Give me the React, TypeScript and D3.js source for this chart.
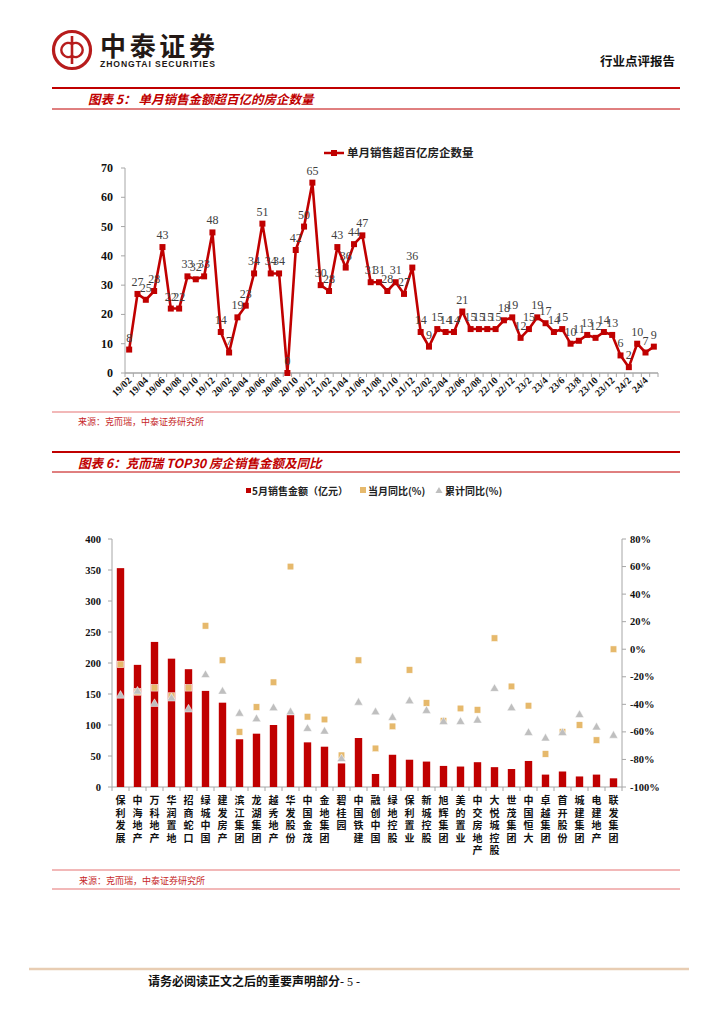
import React from "react";
import * as d3 from "d3";

const months = [
  "19/02","19/03","19/04","19/05","19/06","19/07","19/08","19/09","19/10","19/11","19/12",
  "20/01","20/02","20/03","20/04","20/05","20/06","20/07","20/08","20/09","20/10","20/11","20/12",
  "21/01","21/02","21/03","21/04","21/05","21/06","21/07","21/08","21/09","21/10","21/11","21/12",
  "22/01","22/02","22/03","22/04","22/05","22/06","22/07","22/08","22/09","22/10","22/11","22/12",
  "23/1","23/2","23/3","23/4","23/5","23/6","23/7","23/8","23/9","23/10","23/11","23/12",
  "24/1","24/2","24/3","24/4","24/5",
];
const monthlyCount = [
  8,27,25,28,43,22,22,33,32,33,48,
  14,7,19,23,34,51,34,34,0,42,50,65,
  30,28,43,36,44,47,31,31,28,31,27,36,
  14,9,15,14,14,21,15,15,15,15,18,19,
  12,15,19,17,14,15,10,11,13,12,14,13,
  6,2,10,7,9,
];
const monthTickLabels = [
  "19/02","19/04","19/06","19/08","19/10","19/12","20/02","20/04","20/06","20/08","20/10","20/12",
  "21/02","21/04","21/06","21/08","21/10","21/12","22/02","22/04","22/06","22/08","22/10","22/12",
  "23/2","23/4","23/6","23/8","23/10","23/12","24/2","24/4",
];
const countTicks = [0,10,20,30,40,50,60,70];

const companies = [
  "保利发展","中海地产","万科地产","华润置地","招商蛇口","绿城中国","建发房产","滨江集团","龙湖集团","越秀地产",
  "华发股份","中国金茂","金地集团","碧桂园","中国铁建","融创中国","绿地控股","保利置业","新城控股","旭辉集团",
  "美的置业","中交房地产","大悦城控股","世茂集团","中国恒大","卓越集团","首开股份","城建集团","电建地产","联发集团",
];
const maySales = [353,197,234,207,190,155,136,77,86,100,116,72,65,38,79,21,52,44,41,34,33,40,32,29,42,20,25,17,20,14];
const monthYoY = [-11,-31,-28,-34,-28,17,-8,-60,-42,-24,60,-49,-51,-77,-8,-72,-56,-15,-39,-52,-43,-44,8,-27,-41,-76,-60,-55,-66,0];
const cumYoY = [-33,-30,-39,-35,-43,-18,-30,-46,-50,-42,-45,-57,-59,-79,-38,-45,-49,-37,-44,-52,-52,-51,-28,-42,-60,-64,-60,-47,-56,-62];
const salesTicks = [0,50,100,150,200,250,300,350,400];
const pctTicks = [-100,-80,-60,-40,-20,0,20,40,60,80];

const SERIF = "'Liberation Serif','Times New Roman',serif";
const CJK = "'Noto Sans CJK SC','Noto Sans',sans-serif";
const RED = "#C00000";
const TAN = "#E6B96C";
const GRAY = "#BFBFBF";
const AXIS = "#A6A6A6";

function Chart1() {
  const x = d3.scaleBand<string>().domain(months).range([125, 658]);
  const y = d3.scaleLinear().domain([0, 70]).range([373, 168]);
  const bw = x.bandwidth();
  const cx = (m: string) => (x(m) as number) + bw / 2;
  const line = d3
    .line<number>()
    .x((_, i) => cx(months[i]))
    .y((d) => y(d));
  return (
    <g>
      <line x1={324} x2={344} y1={153} y2={153} stroke={RED} strokeWidth={2.5} />
      <rect x={331} y={150} width={6} height={6} fill={RED} />
      <text x={347} y={157} fontFamily={CJK} fontWeight="bold" fontSize={11.5} fill="#222">
        单月销售超百亿房企数量
      </text>
      <line x1={125} x2={125} y1={168} y2={373} stroke={AXIS} strokeWidth={1} />
      {countTicks.map((t) => (
        <g key={t}>
          <line x1={121} x2={125} y1={y(t)} y2={y(t)} stroke={AXIS} />
          <text x={113} y={y(t) + 4} textAnchor="end" fontFamily={SERIF} fontWeight="bold" fontSize={12} fill="#111">
            {t}
          </text>
        </g>
      ))}
      <line x1={125} x2={658} y1={373} y2={373} stroke={AXIS} strokeWidth={1.5} />
      {d3.range(months.length + 1).map((i) => (
        <line key={i} x1={125 + i * bw} x2={125 + i * bw} y1={373} y2={377} stroke={AXIS} />
      ))}
      {monthTickLabels.map((m) => {
        const xx = cx(m) + 3;
        return (
          <text key={m} transform={`translate(${xx},${381}) rotate(-45)`} textAnchor="end" fontFamily={SERIF} fontWeight="bold" fontSize={10} fill="#111">
            {m}
          </text>
        );
      })}
      <path d={line(monthlyCount) || ""} fill="none" stroke={RED} strokeWidth={2.6} strokeLinejoin="round" />
      {monthlyCount.map((v, i) => (
        <rect key={i} x={cx(months[i]) - 3} y={y(v) - 3} width={6} height={6} fill={RED} />
      ))}
      {monthlyCount.map((v, i) => (
        <text key={"l" + i} x={cx(months[i])} y={y(v) - 8} textAnchor="middle" fontFamily={SERIF} fontSize={12} fill="#404040">
          {v}
        </text>
      ))}
    </g>
  );
}

function Chart2() {
  const x = d3.scaleBand<string>().domain(companies).range([112, 622]);
  const yL = d3.scaleLinear().domain([0, 400]).range([787, 539]);
  const yR = d3.scaleLinear().domain([-100, 80]).range([787, 539]);
  const bw = x.bandwidth();
  const cx = (c: string) => (x(c) as number) + bw / 2;
  const barW = 7.4;
  const tri = d3.symbol().type(d3.symbolTriangle).size(34);
  return (
    <g>
      <rect x={246} y={488} width={5} height={5} fill={RED} />
      <text x={252} y={495} fontFamily={CJK} fontWeight="bold" fontSize={10} fill="#222">5月销售金额（亿元）</text>
      <rect x={360} y={487} width={6} height={6} fill={TAN} />
      <text x={368} y={495} fontFamily={CJK} fontWeight="bold" fontSize={10} fill="#222">当月同比(%)</text>
      <path d={d3.symbol().type(d3.symbolTriangle).size(22)() || ""} transform="translate(439,491)" fill={GRAY} />
      <text x={445} y={495} fontFamily={CJK} fontWeight="bold" fontSize={10} fill="#222">累计同比(%)</text>

      <line x1={112} x2={112} y1={539} y2={787} stroke={AXIS} />
      {salesTicks.map((t) => (
        <g key={t}>
          <line x1={108} x2={112} y1={yL(t)} y2={yL(t)} stroke={AXIS} />
          <text x={101} y={yL(t) + 3.5} textAnchor="end" fontFamily={SERIF} fontWeight="bold" fontSize={10.5} fill="#111">{t}</text>
        </g>
      ))}
      <line x1={622} x2={622} y1={539} y2={787} stroke={AXIS} />
      {pctTicks.map((t) => (
        <g key={t}>
          <line x1={622} x2={626} y1={yR(t)} y2={yR(t)} stroke={AXIS} />
          <text x={630} y={yR(t) + 3.5} textAnchor="start" fontFamily={SERIF} fontWeight="bold" fontSize={10.5} fill="#111">{t}%</text>
        </g>
      ))}
      <line x1={112} x2={622} y1={787} y2={787} stroke={AXIS} />
      {d3.range(companies.length + 1).map((i) => (
        <line key={i} x1={112 + i * bw} x2={112 + i * bw} y1={787} y2={791} stroke={AXIS} />
      ))}
      {maySales.map((v, i) => (
        <rect key={i} x={cx(companies[i]) - barW / 2} y={yL(v)} width={barW} height={787 - yL(v)} fill={RED} />
      ))}
      {monthYoY.map((v, i) => (
        <rect key={"s" + i} x={cx(companies[i]) - 3.3} y={yR(v) - 3.3} width={6.6} height={6.6} fill={TAN} stroke="#fff" strokeWidth={0.5} />
      ))}
      {cumYoY.map((v, i) => (
        <path key={"t" + i} d={tri() || ""} transform={`translate(${cx(companies[i])},${yR(v) + 1})`} fill={GRAY} stroke="#fff" strokeWidth={0.5} />
      ))}
      {companies.map((c) => (
        <g key={c}>
          {Array.from(c).map((ch, j) => (
            <text key={j} x={cx(c)} y={804 + j * 12.5} textAnchor="middle" fontFamily={CJK} fontWeight="bold" fontSize={10} fill="#111">
              {ch}
            </text>
          ))}
        </g>
      ))}
    </g>
  );
}

function Logo() {
  return (
    <g>
      <circle cx={72} cy={50} r={18.5} fill="none" stroke="#B71C1C" strokeWidth={3.2} />
      <path d="M72 36 L72 64" stroke="#B71C1C" strokeWidth={2.6} />
      <path d="M72 44 A7 7 0 1 0 72 56" fill="none" stroke="#B71C1C" strokeWidth={2.6} />
      <path d="M72 44 A7 7 0 1 1 72 56" fill="none" stroke="#B71C1C" strokeWidth={2.6} />
      <text x={100} y={56} fontFamily={CJK} fontWeight="bold" fontSize={26} fill="#231815" textLength={115}>中泰证券</text>
      <text x={100} y={66.5} fontFamily="'Liberation Sans',Arial,sans-serif" fontWeight="bold" fontSize={8.6} fill="#231815" textLength={115}>ZHONGTAI SECURITIES</text>
    </g>
  );
}

export default function App() {
  return (
    <div style={{ position: "absolute", left: 0, top: 0 }}>
      <svg width={724} height={1024} viewBox="0 0 724 1024" style={{ display: "block", background: "#fff" }}>
        <Logo />
        <text x={675} y={66} textAnchor="end" fontFamily={CJK} fontWeight="bold" fontSize={12.5} fill="#111">行业点评报告</text>

        <line x1={52} x2={680} y1={88} y2={88} stroke={RED} strokeWidth={2} />
        <text x={88} y={104} fontFamily={CJK} fontStyle="italic" fontWeight="bold" fontSize={12.5} fill={RED}>图表 5：  单月销售金额超百亿的房企数量</text>
        <line x1={52} x2={680} y1={109} y2={109} stroke={RED} strokeWidth={1} />
        <Chart1 />
        <line x1={52} x2={680} y1={412} y2={412} stroke="#E57373" strokeWidth={1.2} />
        <text x={78} y={425} fontFamily={CJK} fontSize={9} fill="#C62828">来源：克而瑞，中泰证券研究所</text>

        <line x1={52} x2={680} y1={452} y2={452} stroke={RED} strokeWidth={2} />
        <text x={78} y={468} fontFamily={CJK} fontStyle="italic" fontWeight="bold" fontSize={12.5} fill={RED}>图表 6：克而瑞 TOP30 房企销售金额及同比</text>
        <line x1={52} x2={680} y1={472} y2={472} stroke={RED} strokeWidth={1} />
        <Chart2 />
        <line x1={52} x2={680} y1={870} y2={870} stroke="#E57373" strokeWidth={1.2} />
        <text x={79} y={884} fontFamily={CJK} fontSize={9} fill="#C62828">来源：克而瑞，中泰证券研究所</text>
        <line x1={52} x2={680} y1={889} y2={889} stroke="#E57373" strokeWidth={1.2} />

        <line x1={29} x2={689} y1={969} y2={969} stroke="#E8CDB3" strokeWidth={2.5} />
        <text x={148} y={986} fontFamily={CJK} fontWeight="bold" fontSize={12} fill="#111">请务必阅读正文之后的重要声明部分</text>
        <text x={340} y={986} fontFamily={SERIF} fontSize={12} fill="#111">- 5 -</text>
      </svg>
    </div>
  );
}
